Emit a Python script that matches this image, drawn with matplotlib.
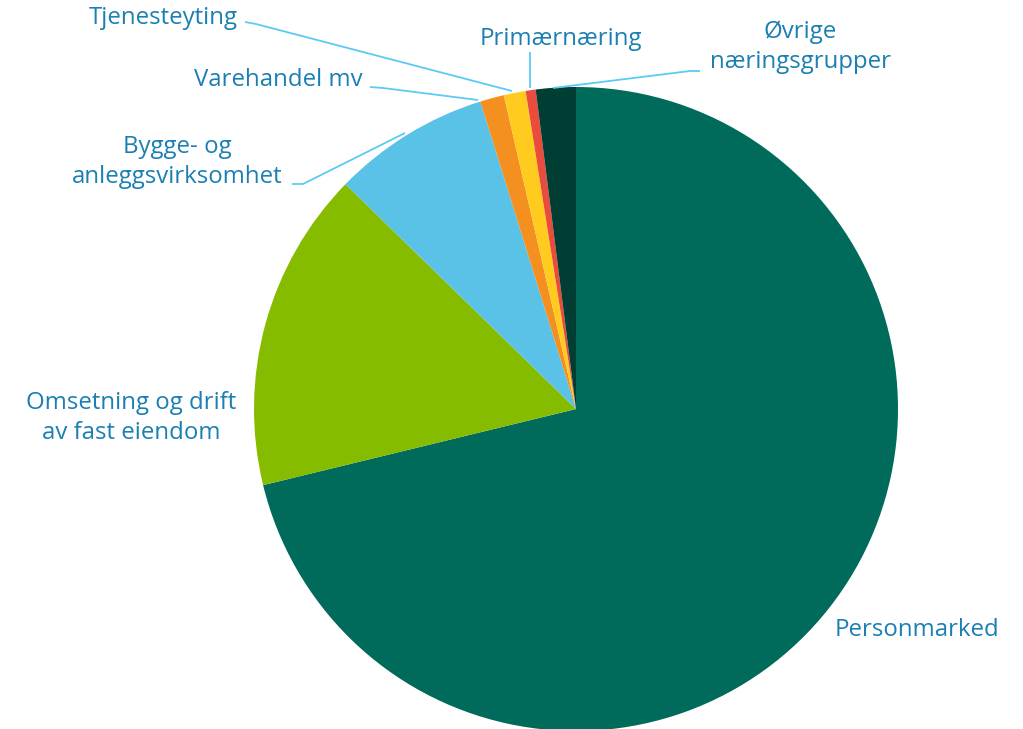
import matplotlib.pyplot as plt

plt.rcParams['font.family'] = ['Open Sans', 'DejaVu Sans']

# andeler i prosent (lest av figuren)
labels = ["Personmarked", "Omsetning og drift\nav fast eiendom", "Bygge- og\nanleggsvirksomhet",
          "Varehandel mv", "Tjenesteyting", "Primærnæring", "Øvrige\nnæringsgrupper"]
values = [71.2, 16.1, 7.9, 1.2, 1.1, 0.5, 2.0]
colors = ["#006B5A", "#86BC00", "#5BC2E7", "#F39020", "#FFCB1F", "#E94B3C", "#003D33"]

W, H = 1023, 729
txt_col = "#1A7FB2"
line_col = "#5BCBF5"

fig = plt.figure(figsize=(W / 100, H / 100), dpi=100)
ax = fig.add_axes([0, 0, 1, 1])

cx, cy, r = 576, H - 409, 322
ax.pie(values, colors=colors, startangle=90, counterclock=False,
       center=(cx, cy), radius=r, frame=True,
       wedgeprops=dict(linewidth=0))
ax.set_xlim(0, W)
ax.set_ylim(0, H)
ax.set_aspect('equal')
ax.axis('off')

def P(x, y):
    return x, H - y

# etiketter (pikselposisjoner i bildet)
label_pos = [(917, 630), (131, 418), (177, 162), (278, 80), (163, 18), (561, 39), (800, 47)]
for lab, (x, y) in zip(labels, label_pos):
    ax.text(*P(x, y), lab, ha='center', va='center', fontsize=17.3,
            color=txt_col, linespacing=1.36)

# ledelinjer
leaders = [
    [(292, 184), (303, 184), (405, 133)],
    [(370, 87), (383, 88), (478, 100)],
    [(245, 22), (256, 24), (512, 91)],
    [(530, 52), (530, 88)],
    [(700, 71), (690, 71), (553, 88)],
]
for pts in leaders:
    xs = [P(*p)[0] for p in pts]
    ys = [P(*p)[1] for p in pts]
    ax.plot(xs, ys, color=line_col, lw=1.3, solid_capstyle='butt')

fig.savefig("out.png", dpi=100)
